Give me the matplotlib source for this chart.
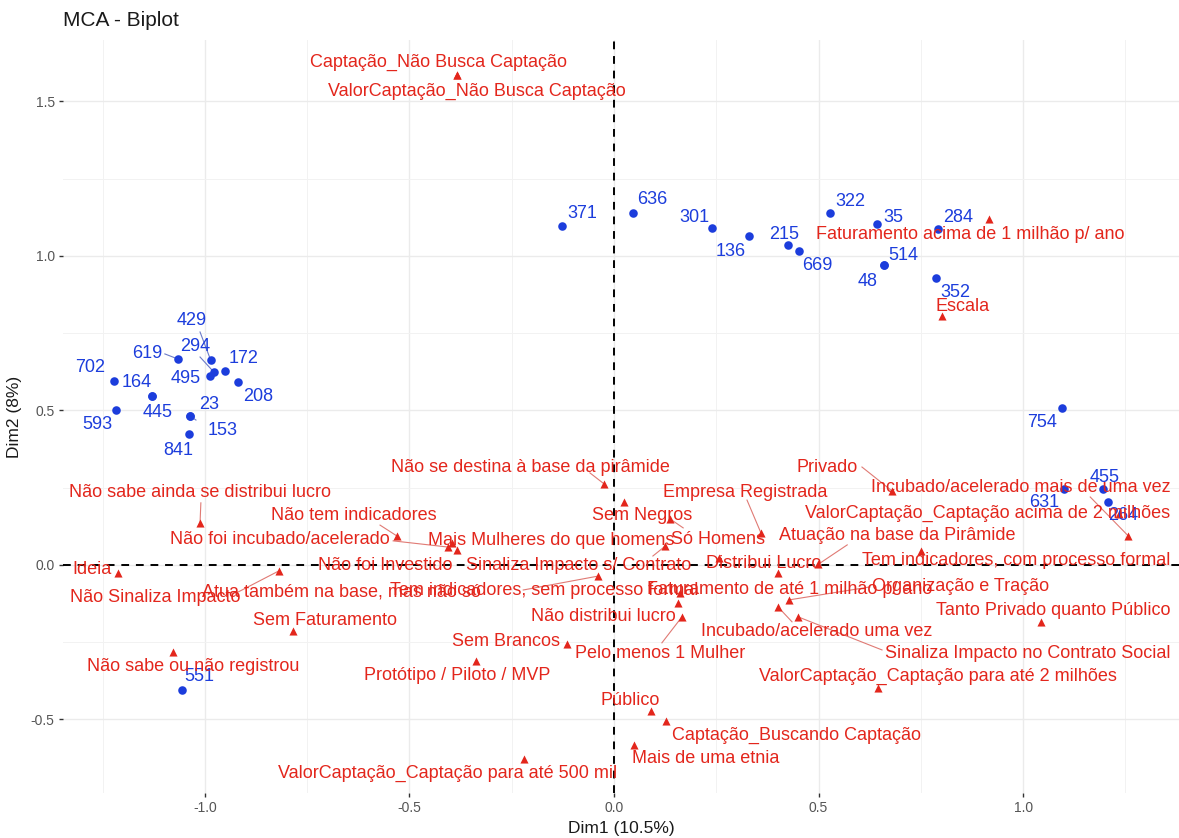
import matplotlib
matplotlib.use("Agg")
import matplotlib.pyplot as plt
from matplotlib.ticker import MultipleLocator

plt.rcParams['font.family'] = ['Liberation Sans', 'DejaVu Sans']

# Individuals (rows) on the first two MCA dimensions
ind_names = ["371", "636", "301", "136", "215", "669", "322", "35", "284", "514",
             "48", "352", "754", "455", "264", "631", "619", "429", "294", "495",
             "172", "208", "702", "164", "445", "593", "23", "153", "841", "551"]
ind_dim1 = [-0.127, 0.046, 0.240, 0.330, 0.425, 0.452, 0.528, 0.643, 0.792, 0.660,
            0.660, 0.787, 1.095, 1.196, 1.208, 1.100, -1.065, -0.986, -0.978, -0.988,
            -0.950, -0.920, -1.222, -1.130, -1.130, -1.217, -1.037, -1.037, -1.038, -1.057]
ind_dim2 = [1.097, 1.139, 1.091, 1.065, 1.036, 1.016, 1.139, 1.104, 1.087, 0.971,
            0.971, 0.929, 0.508, 0.246, 0.204, 0.246, 0.666, 0.663, 0.624, 0.610,
            0.629, 0.592, 0.594, 0.547, 0.547, 0.502, 0.483, 0.483, 0.424, -0.405]

# Variable categories
var_names = [
    "Captação_Não Busca Captação", "ValorCaptação_Não Busca Captação",
    "Faturamento acima de 1 milhão p/ ano", "Escala",
    "Não se destina à base da pirâmide", "Sem Negros", "Só Homens",
    "Empresa Registrada", "Privado", "Incubado/acelerado mais de uma vez",
    "ValorCaptação_Captação acima de 2 milhões", "Atuação na base da Pirâmide",
    "Tem indicadores, com processo formal", "Distribui Lucro",
    "Faturamento de até 1 milhão p/ ano", "Organização e Tração",
    "Incubado/acelerado uma vez", "Sinaliza Impacto no Contrato Social",
    "Tanto Privado quanto Público", "ValorCaptação_Captação para até 2 milhões",
    "Público", "Captação_Buscando Captação", "Mais de uma etnia",
    "ValorCaptação_Captação para até 500 mil", "Sem Brancos",
    "Protótipo / Piloto / MVP", "Pelo menos 1 Mulher", "Não distribui lucro",
    "Tem indicadores, sem processo formal", "Sinaliza Impacto s/ Contrato",
    "Não foi Investido", "Mais Mulheres do que homens", "Não tem indicadores",
    "Não foi incubado/acelerado", "Não sabe ainda se distribui lucro", "Ideia",
    "Não Sinaliza Impacto", "Atua também na base, mas não só",
    "Sem Faturamento", "Não sabe ou não registrou"]
var_dim1 = [-0.384, -0.384, 0.917, 0.802, -0.024, 0.024, 0.137, 0.359, 0.680, 1.257,
            1.235, 0.499, 0.751, 0.257, 0.401, 0.428, 0.401, 0.450, 1.044, 0.645,
            0.090, 0.127, 0.049, -0.220, -0.115, -0.337, 0.166, 0.156, 0.161, 0.125,
            -0.384, -0.397, -0.531, -0.406, -1.012, -1.213, -0.819, -0.039, -0.785, -1.078]
var_dim2 = [1.586, 1.586, 1.120, 0.806, 0.262, 0.204, 0.149, 0.104, 0.239, 0.094,
            0.165, 0.002, 0.045, 0.023, -0.026, -0.113, -0.136, -0.168, -0.184, -0.398,
            -0.472, -0.505, -0.583, -0.628, -0.256, -0.311, -0.168, -0.123, -0.091, 0.061,
            0.049, 0.071, 0.094, 0.058, 0.136, -0.026, -0.019, -0.036, -0.214, -0.281]

dim1_label = "Dim1 (10.5%)"
dim2_label = "Dim2 (8%)"

# label placement (repelled positions) and optional leader start points
ind_label_pos = {
    "371": (-0.078, 1.136), "636": (0.093, 1.184), "301": (0.196, 1.126),
    "136": (0.284, 1.016), "215": (0.416, 1.071), "669": (0.496, 0.968),
    "322": (0.577, 1.175), "35": (0.682, 1.126), "284": (0.841, 1.123),
    "514": (0.707, 1.003), "48": (0.619, 0.919), "352": (0.834, 0.883),
    "754": (1.046, 0.460), "455": (1.198, 0.282), "631": (1.051, 0.201),
    "264": (1.244, 0.159), "429": (-1.032, 0.790), "619": (-1.142, 0.686),
    "294": (-1.024, 0.706), "172": (-0.905, 0.667), "495": (-1.046, 0.602),
    "208": (-0.870, 0.544), "702": (-1.281, 0.638), "164": (-1.166, 0.589),
    "445": (-1.115, 0.495), "593": (-1.264, 0.456), "23": (-0.990, 0.518),
    "153": (-0.956, 0.434), "841": (-1.066, 0.372), "551": (-1.015, -0.362),
}
ind_leaders = {"429": (-1.012, 0.754), "294": (-1.012, 0.673),
               "619": (-1.098, 0.683), "153": (-1.022, 0.469)}

var_label_pos = [
    (-0.430, 1.628), (-0.335, 1.534), (0.870, 1.071), (0.851, 0.838),
    (-0.205, 0.317), (0.068, 0.159), (0.254, 0.084), (0.320, 0.236),
    (0.521, 0.317), (0.995, 0.252), (0.912, 0.168), (0.692, 0.094),
    (0.983, 0.016), (0.367, 0.006), (0.430, -0.078), (0.846, -0.071),
    (0.496, -0.214), (1.012, -0.285), (1.073, -0.146), (0.792, -0.362),
    (0.039, -0.440), (0.447, -0.550), (0.225, -0.625), (-0.406, -0.673),
    (-0.264, -0.249), (-0.384, -0.359), (0.112, -0.288), (-0.027, -0.168),
    (-0.171, -0.084), (-0.086, -0.003), (-0.560, -0.003), (-0.154, 0.078),
    (-0.636, 0.159), (-0.817, 0.081), (-1.012, 0.233), (-1.276, -0.016),
    (-1.122, -0.104), (-1.007, -0.087), (-0.707, -0.181), (-1.029, -0.330)]
var_leaders = {
    "Não sabe ainda se distribui lucro": (-1.010, 0.201),
    "Não tem indicadores": (-0.572, 0.129),
    "Não foi incubado/acelerado": (-0.540, 0.078),
    "Não Sinaliza Impacto": (-0.924, -0.091),
    "Atua também na base, mas não só": (-0.222, -0.081),
    "Não se destina à base da pirâmide": (-0.059, 0.298),
    "Só Homens": (0.169, 0.120),
    "Sinaliza Impacto s/ Contrato": (0.095, 0.029),
    "Empresa Registrada": (0.325, 0.210),
    "Privado": (0.606, 0.317),
    "Incubado/acelerado mais de uma vez": (1.164, 0.220),
    "Atuação na base da Pirâmide": (0.570, 0.065),
    "Organização e Tração": (0.626, -0.071),
    "Incubado/acelerado uma vez": (0.435, -0.184),
    "Sinaliza Impacto no Contrato Social": (0.655, -0.275),
    "Pelo menos 1 Mulher": (0.117, -0.252),
}
left_aligned = {"Atua também na base, mas não só"}

BLUE = "#1c3ddc"
RED = "#e3261c"

fig = plt.figure(figsize=(11.79, 8.38), dpi=100)
ax = fig.add_axes([63 / 1179, 45 / 838, 1116 / 1179, 753 / 838])
ax.set_xlim(-1.347, 1.381)
ax.set_ylim(-0.738, 1.699)

# theme_minimal look
for s in ax.spines.values():
    s.set_visible(False)
ax.xaxis.set_major_locator(MultipleLocator(0.5))
ax.xaxis.set_minor_locator(MultipleLocator(0.25))
ax.yaxis.set_major_locator(MultipleLocator(0.5))
ax.yaxis.set_minor_locator(MultipleLocator(0.25))
ax.grid(which="major", color="#ebebeb", linewidth=1.0)
ax.grid(which="minor", color="#f2f2f2", linewidth=0.7)
ax.set_axisbelow(True)
ax.tick_params(which="major", length=3, width=1, color="#333333",
               labelsize=10, labelcolor="#555555", pad=3)
ax.tick_params(which="minor", length=0)
ax.xaxis.set_major_formatter(plt.FuncFormatter(lambda v, p: f"{v:.1f}"))
ax.yaxis.set_major_formatter(plt.FuncFormatter(lambda v, p: f"{v:.1f}"))

ax.axhline(0, color="black", linewidth=1.4, linestyle=(0, (4, 3.5)), zorder=1)
ax.axvline(0, color="black", linewidth=1.4, linestyle=(0, (4, 3.5)), zorder=1)

# leader segments
for name, (sx, sy) in ind_leaders.items():
    i = ind_names.index(name)
    ax.plot([sx, ind_dim1[i]], [sy, ind_dim2[i]], color="#6b7bc8", lw=0.8, zorder=2)
for name, (sx, sy) in var_leaders.items():
    i = var_names.index(name)
    ax.plot([sx, var_dim1[i]], [sy, var_dim2[i]], color="#e07a74", lw=0.8, zorder=2)

ax.scatter(ind_dim1, ind_dim2, s=38, color=BLUE, marker="o", zorder=3, linewidths=0)
ax.scatter(var_dim1, var_dim2, s=34, color=RED, marker="^", zorder=3, linewidths=0)

for name in ind_names:
    lx, ly = ind_label_pos[name]
    ax.text(lx, ly, name, color=BLUE, fontsize=13, ha="center", va="center", zorder=4)

for name, (lx, ly) in zip(var_names, var_label_pos):
    ha = "left" if name in left_aligned else "center"
    ax.text(lx, ly, name, color=RED, fontsize=13, ha=ha, va="center", zorder=4)

ax.set_xlabel(dim1_label, fontsize=12.5, color="#1a1a1a", labelpad=4)
ax.set_ylabel(dim2_label, fontsize=12.5, color="#1a1a1a", labelpad=6)
fig.text(63 / 1179, 1 - 20 / 838, "MCA - Biplot", fontsize=15, color="#1a1a1a",
         ha="left", va="center")

fig.savefig("out.png", dpi=100, facecolor="white")
